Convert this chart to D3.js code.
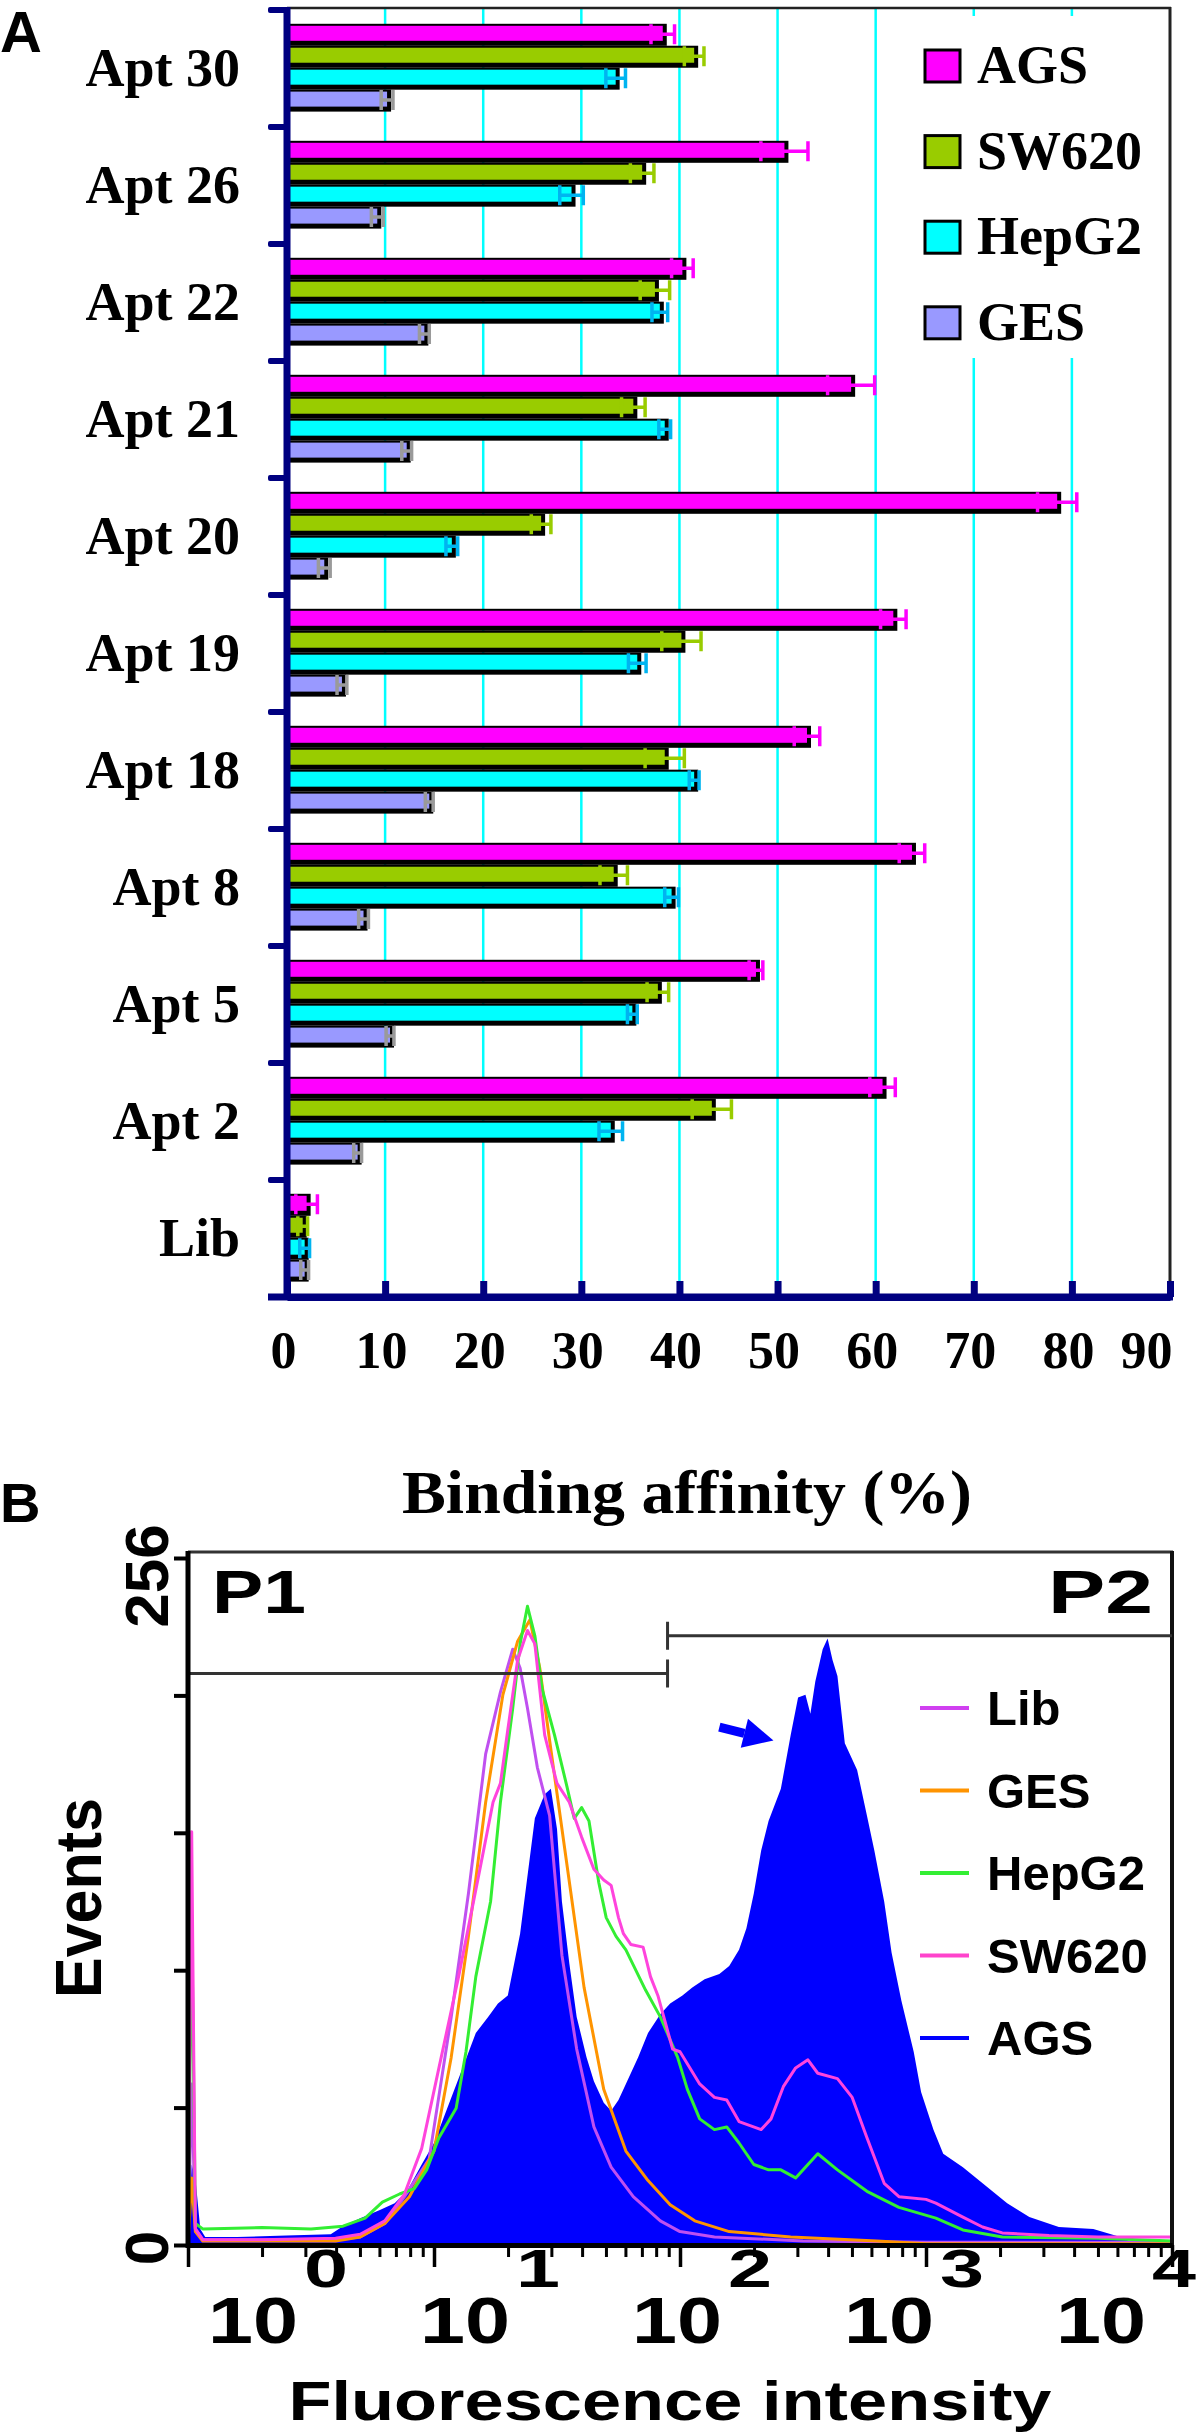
<!DOCTYPE html>
<html><head><meta charset="utf-8">
<script src="https://cdn.jsdelivr.net/npm/d3@7"></script>
<style>html,body{margin:0;padding:0;background:#fff;} svg{display:block;}</style>
</head><body><div id="chart"></div>
<script>
// ================= Panel A data =================
const categories = ["Apt 30","Apt 26","Apt 22","Apt 21","Apt 20","Apt 19","Apt 18","Apt 8","Apt 5","Apt 2","Lib"];
const seriesNames = ["AGS","SW620","HepG2","GES"];
const agsValues   = [38.3, 50.7, 40.3, 57.5, 78.5, 61.8, 53.0, 63.7, 47.8, 60.7, 2.0];
const agsErrors   = [1.2, 2.4, 1.1, 2.4, 2.0, 1.3, 1.3, 1.3, 0.7, 1.3, 1.1];
const sw620Values = [41.5, 36.2, 37.5, 35.3, 25.9, 40.2, 38.5, 33.3, 37.8, 43.3, 1.6];
const sw620Errors = [1.0, 1.2, 1.5, 1.2, 1.0, 2.0, 2.0, 1.4, 1.1, 2.0, 0.5];
const hepg2Values = [33.5, 29.0, 38.0, 38.5, 16.8, 35.7, 41.5, 39.2, 35.2, 33.0, 1.8];
const hepg2Errors = [1.0, 1.2, 0.8, 0.6, 0.6, 0.9, 0.5, 0.7, 0.5, 1.2, 0.5];
const gesValues   = [10.2, 9.2, 14.0, 12.2, 3.8, 5.6, 14.5, 7.8, 10.5, 7.2, 1.8];
const gesErrors   = [0.6, 0.6, 0.5, 0.5, 0.6, 0.5, 0.4, 0.5, 0.4, 0.4, 0.4];
const xTickValuesA = [0, 10, 20, 30, 40, 50, 60, 70, 80, 90];
const titleA = "Binding affinity (%)";

// ================= Panel B data =================
// [log10 fluorescence, events]
const agsCurve = [[0,0],[0.015,30],[0.03,25],[0.05,6],[0.07,3],[0.2,3],[0.4,3.5],[0.58,4],[0.63,7],[0.7,10],[0.78,13],[0.84,15.6],[0.89,20],[0.95,30],[1.0,38],[1.05,50],[1.1,62],[1.17,79],[1.22,85],[1.26,90],[1.3,93],[1.35,116],[1.41,159],[1.45,168],[1.475,170],[1.5,155],[1.52,128],[1.55,105],[1.58,85],[1.62,70],[1.65,61],[1.69,53],[1.72,50],[1.75,54],[1.78,60],[1.83,70],[1.87,79],[1.92,86],[1.96,90],[2.01,93],[2.05,96],[2.1,99],[2.16,101],[2.2,104],[2.24,110],[2.27,118],[2.3,131],[2.33,147],[2.36,158],[2.41,170],[2.45,190],[2.48,204],[2.51,205],[2.53,198],[2.55,210],[2.58,222],[2.6,226],[2.62,218],[2.64,212],[2.67,187],[2.72,177],[2.76,160],[2.79,147],[2.83,128],[2.86,109],[2.9,91],[2.95,72],[2.98,57],[3.03,43],[3.07,34],[3.15,29],[3.23,23],[3.33,15.6],[3.42,10.4],[3.54,6.7],[3.68,6],[3.79,3],[3.85,0.5],[4.0,0]];
const libCurve = [[0,0],[0.015,60],[0.03,6],[0.06,2],[0.3,2],[0.6,2],[0.7,3],[0.8,8],[0.88,18],[0.98,32],[1.07,85],[1.14,131],[1.21,183],[1.27,206],[1.32,222],[1.35,215],[1.38,200],[1.42,178],[1.47,160],[1.52,108],[1.58,73],[1.65,44],[1.72,29],[1.81,18],[1.92,9],[2.0,5],[2.14,3],[2.5,1.5],[3.0,1],[4.0,1]];
const gesCurve = [[0,0],[0.015,25],[0.03,5],[0.06,1.5],[0.6,1.5],[0.7,3],[0.8,8],[0.9,18],[1.0,35],[1.07,70],[1.14,115],[1.21,165],[1.28,205],[1.34,225],[1.39,233],[1.43,215],[1.47,188],[1.54,142],[1.61,96],[1.69,58],[1.78,35],[1.87,24],[1.96,15],[2.06,9],[2.2,5],[2.45,3],[2.8,1.5],[3.0,0.5],[4.0,0.5]];
const hepg2Curve = [[0,0],[0.015,123],[0.03,8],[0.06,6],[0.3,6.5],[0.5,6],[0.63,7],[0.72,10],[0.79,16],[0.86,19],[0.92,21],[0.97,28],[1.02,40],[1.09,51],[1.13,72],[1.17,100],[1.23,128],[1.27,165],[1.32,200],[1.35,224],[1.38,238],[1.41,227],[1.44,207],[1.49,190],[1.54,171],[1.57,159],[1.6,163],[1.63,158],[1.67,135],[1.7,122],[1.74,115],[1.78,110],[1.86,95],[1.92,85],[1.99,70],[2.03,58],[2.08,47],[2.14,43],[2.19,44],[2.24,38],[2.3,30],[2.36,28],[2.41,28],[2.47,25],[2.52,30],[2.56,34],[2.64,28],[2.76,20],[2.89,14],[3.04,10],[3.15,5.6],[3.31,3],[3.7,2.5],[4.0,1.5]];
const sw620Curve = [[0,0],[0.015,154],[0.03,6],[0.06,2],[0.3,2],[0.6,2.5],[0.7,4],[0.8,9],[0.88,19],[0.95,36],[1.02,66],[1.1,100],[1.18,137],[1.24,165],[1.27,172],[1.3,192],[1.34,218],[1.38,229],[1.41,224],[1.45,190],[1.5,172],[1.55,165],[1.6,152],[1.65,140],[1.69,136],[1.72,134],[1.75,122],[1.77,116],[1.8,112],[1.85,111],[1.88,100],[1.91,93],[1.97,73],[2.0,72],[2.08,60],[2.14,55],[2.19,54],[2.24,46],[2.33,43],[2.37,47],[2.42,59],[2.47,66],[2.52,69],[2.56,64],[2.64,62],[2.7,55],[2.76,40],[2.83,23],[2.89,18],[3.0,17],[3.04,15.6],[3.15,10.4],[3.23,6.7],[3.31,4.5],[3.5,3.5],[3.7,3],[4.0,3]];
const histLegend = ["Lib","GES","HepG2","SW620","AGS"];
const yTickValuesB = [0, 51.2, 102.4, 153.6, 204.8, 256];
const yTickLabelsB = ["0", "256"];
const decadeExponents = [0, 1, 2, 3, 4];
const gateBoundary = 89;          // fluorescence where P1 ends / P2 starts
const gateP1Level = 213;          // events level of P1 marker
const gateP2Level = 227;          // events level of P2 marker
const arrowTail = [2.16, 193];    // [log10 fluorescence, events]
const arrowTip = [2.38, 188];

// ================= Setup =================
const serif = "'Liberation Serif','Times New Roman',serif";
const sans = "'Liberation Sans',Arial,sans-serif";
const navy = "#000080";

const svg = d3.select("#chart").append("svg").attr("width", 1200).attr("height", 2434);
svg.append("rect").attr("width", 1200).attr("height", 2434).attr("fill", "#fff");

// ================= Panel A =================
const xA = d3.scaleLinear().domain([0, 90]).range([287, 1170]);
const yA = d3.scaleBand().domain(categories).range([10, 1297]);
const band = yA.bandwidth();
const ySub = d3.scaleBand().domain(seriesNames).range([band * 0.135, band * 0.885]);
const barH = 15;
const fillA = {AGS: "#ff00ff", SW620: "#99cc00", HepG2: "#00ffff", GES: "#9999ff"};
const errA = {AGS: "#ff00ff", SW620: "#99cc00", HepG2: "#00b4f0", GES: "#9a9a9a"};
const valsA = {AGS: agsValues, SW620: sw620Values, HepG2: hepg2Values, GES: gesValues};
const errsA = {AGS: agsErrors, SW620: sw620Errors, HepG2: hepg2Errors, GES: gesErrors};
const barData = categories.flatMap((c, i) => seriesNames.map(s => ({cat: c, s, v: valsA[s][i], e: errsA[s][i]})));

const gA = svg.append("g");
gA.selectAll("line.grid").data(xTickValuesA.filter(t => t > 0 && t < 90)).join("line")
  .attr("x1", d => xA(d)).attr("x2", d => xA(d)).attr("y1", 8).attr("y2", 1297)
  .attr("stroke", "#00ffff").attr("stroke-width", 2.5);
gA.append("rect").attr("x", 900).attr("y", 16).attr("width", 262).attr("height", 342).attr("fill", "#fff");
gA.append("line").attr("x1", 287).attr("x2", 1171).attr("y1", 8).attr("y2", 8).attr("stroke", "#222").attr("stroke-width", 2.5);
gA.append("line").attr("x1", 1170).attr("x2", 1170).attr("y1", 7).attr("y2", 1297).attr("stroke", "#222").attr("stroke-width", 3);

gA.selectAll("rect.shadow").data(barData).join("rect").attr("class", "shadow")
  .attr("x", xA(0)).attr("y", d => yA(d.cat) + ySub(d.s) - 2)
  .attr("width", d => xA(d.v) - xA(0) + 4).attr("height", barH + 7).attr("fill", "#000");
gA.selectAll("rect.bar").data(barData).join("rect").attr("class", "bar")
  .attr("x", xA(0)).attr("y", d => yA(d.cat) + ySub(d.s))
  .attr("width", d => xA(d.v) - xA(0)).attr("height", barH).attr("fill", d => fillA[d.s]);
gA.selectAll("path.err").data(barData).join("path").attr("class", "err")
  .attr("d", d => {
    const cy = yA(d.cat) + ySub(d.s) + barH / 2 + 1;
    const x1 = xA(d.v - d.e), x2 = xA(d.v + d.e);
    return `M${x1},${cy - 10}V${cy + 10}M${x1},${cy}H${x2}M${x2},${cy - 10}V${cy + 10}`;
  })
  .attr("fill", "none").attr("stroke", d => errA[d.s]).attr("stroke-width", 3.5);

const legA = gA.selectAll("g.legA").data(seriesNames).join("g")
  .attr("transform", (d, i) => `translate(925,${50 + i * 85.6})`);
legA.append("rect").attr("width", 35).attr("height", 32).attr("fill", d => fillA[d])
  .attr("stroke", "#000").attr("stroke-width", 3);
legA.append("text").attr("x", 52).attr("y", 33).text(d => d)
  .attr("font-family", serif).attr("font-weight", "bold").attr("font-size", 54).attr("fill", "#000");

const axA_left = gA.append("g").attr("transform", `translate(${xA(0)},0)`)
  .call(d3.axisLeft(yA).tickSize(0).tickPadding(47));
axA_left.select(".domain").remove();
axA_left.selectAll("text").attr("font-family", serif).attr("font-weight", "bold")
  .attr("font-size", 54).attr("fill", "#000");
gA.append("line").attr("x1", xA(0)).attr("x2", xA(0)).attr("y1", 7).attr("y2", 1300)
  .attr("stroke", navy).attr("stroke-width", 7);
gA.selectAll("rect.btick").data(categories.map(c => yA(c)).concat([yA.range()[1]])).join("rect")
  .attr("x", 268).attr("y", d => d - 3).attr("width", 20).attr("height", 6).attr("rx", 2).attr("fill", navy);

const axA_bottom = gA.append("g").attr("transform", `translate(0,1297)`)
  .call(d3.axisBottom(xA).tickValues(xTickValuesA).tickSize(-16).tickSizeOuter(0).tickPadding(34));
axA_bottom.select(".domain").attr("stroke", navy).attr("stroke-width", 7);
axA_bottom.selectAll(".tick line").attr("stroke", navy).attr("stroke-width", 7);
axA_bottom.selectAll("text").attr("font-family", serif).attr("font-weight", "bold")
  .attr("font-size", 52).attr("fill", "#000")
  .attr("text-anchor", (d, i, n) => i === n.length - 1 ? "end" : "middle")
  .attr("dx", (d, i, n) => i === n.length - 1 ? 2 : -4);
gA.append("line").attr("x1", 268).attr("x2", 1173).attr("y1", 1297).attr("y2", 1297)
  .attr("stroke", navy).attr("stroke-width", 7);

svg.append("text").attr("x", 0).attr("y", 52).text("A").attr("font-family", sans)
  .attr("font-weight", "bold").attr("font-size", 58).attr("fill", "#000");

svg.append("text").attr("x", 687).attr("y", 1513).attr("text-anchor", "middle").text(titleA)
  .attr("font-family", serif).attr("font-weight", "bold").attr("font-size", 62)
  .attr("textLength", 570).attr("lengthAdjust", "spacingAndGlyphs").attr("fill", "#000");
svg.append("text").attr("x", 0).attr("y", 1522).text("B").attr("font-family", sans)
  .attr("font-weight", "bold").attr("font-size", 56).attr("fill", "#000");

// ================= Panel B =================
const xB = d3.scaleLog().domain([1, 1e4]).range([188, 1172]);
const yB = d3.scaleLinear().domain([0, 256]).range([2245, 1558]);
const gB = svg.append("g");
svg.append("clipPath").attr("id", "clipB").append("rect")
  .attr("x", 188).attr("y", 1552).attr("width", 984).attr("height", 693);
const plotB = gB.append("g").attr("clip-path", "url(#clipB)");

const px = d => xB(Math.pow(10, d[0]));
plotB.append("path").datum(agsCurve)
  .attr("d", d3.area().x(px).y0(yB(0)).y1(d => yB(d[1])))
  .attr("fill", "#0000ff");
const lineB = d3.line().x(px).y(d => yB(d[1]));
const lineSeries = [
  {name: "Lib", data: libCurve, color: "#c050f0"},
  {name: "GES", data: gesCurve, color: "#ff9400"},
  {name: "HepG2", data: hepg2Curve, color: "#33ee33"},
  {name: "SW620", data: sw620Curve, color: "#ff44dd"}
];
plotB.selectAll("path.hist").data(lineSeries).join("path").attr("class", "hist")
  .attr("d", d => lineB(d.data)).attr("fill", "none").attr("stroke", d => d.color)
  .attr("stroke-width", 3).attr("stroke-linejoin", "round");

gB.append("line").attr("x1", 188).attr("x2", 1173).attr("y1", 1552).attr("y2", 1552).attr("stroke", "#333").attr("stroke-width", 3);
gB.append("line").attr("x1", 1172).attr("x2", 1172).attr("y1", 1551).attr("y2", 2247).attr("stroke", "#111").attr("stroke-width", 4);

const gateX = xB(gateBoundary);
gB.append("path").attr("d", `M${xB(1)},${yB(gateP1Level)}H${gateX}M${gateX},${yB(gateP1Level) - 14}V${yB(gateP1Level) + 14}`)
  .attr("stroke", "#333").attr("stroke-width", 3).attr("fill", "none");
gB.append("path").attr("d", `M${gateX},${yB(gateP2Level)}H${xB(1e4)}M${gateX},${yB(gateP2Level) - 14}V${yB(gateP2Level) + 14}`)
  .attr("stroke", "#333").attr("stroke-width", 3).attr("fill", "none");
gB.append("text").attr("x", 212).attr("y", 1613).text("P1").attr("font-family", sans).attr("font-weight", "bold")
  .attr("font-size", 62).attr("textLength", 94).attr("lengthAdjust", "spacingAndGlyphs");
gB.append("text").attr("x", 1153).attr("y", 1613).attr("text-anchor", "end").text("P2").attr("font-family", sans).attr("font-weight", "bold")
  .attr("font-size", 62).attr("textLength", 105).attr("lengthAdjust", "spacingAndGlyphs");

{
  const t = [px(arrowTail), yB(arrowTail[1])], h = [px(arrowTip), yB(arrowTip[1])];
  const ang = Math.atan2(h[1] - t[1], h[0] - t[0]);
  const L = 30, W = 15;
  const bx = h[0] - L * Math.cos(ang), by = h[1] - L * Math.sin(ang);
  const nx = -Math.sin(ang), ny = Math.cos(ang);
  gB.append("line").attr("x1", t[0]).attr("y1", t[1]).attr("x2", bx).attr("y2", by)
    .attr("stroke", "#0000ff").attr("stroke-width", 9);
  gB.append("path").attr("d", `M${h[0]},${h[1]}L${bx + nx * W},${by + ny * W}L${bx - nx * W},${by - ny * W}Z`).attr("fill", "#0000ff");
}

const colorB = {Lib: "#d040f0", GES: "#ff9400", HepG2: "#33ee33", SW620: "#ff44cc", AGS: "#0000ff"};
const legB = gB.selectAll("g.legB").data(histLegend).join("g")
  .attr("transform", (d, i) => `translate(920,${1708 + i * 82.5})`);
legB.append("line").attr("x1", 0).attr("x2", 49).attr("stroke", d => colorB[d]).attr("stroke-width", 4);
legB.append("text").attr("x", 67).attr("y", 17).text(d => d).attr("font-family", sans)
  .attr("font-weight", "bold").attr("font-size", 49).attr("fill", "#000");

const axB_left = gB.append("g").attr("transform", "translate(188,0)")
  .call(d3.axisLeft(yB).tickValues(yTickValuesB).tickSize(14).tickSizeOuter(0).tickFormat(""));
axB_left.select(".domain").remove();
axB_left.selectAll(".tick line").attr("stroke", "#000").attr("stroke-width", 4);
gB.append("line").attr("x1", 188).attr("x2", 188).attr("y1", 1551).attr("y2", 2248).attr("stroke", "#000").attr("stroke-width", 5);
gB.selectAll("text.ylab").data(yTickLabelsB).join("text")
  .attr("transform", d => `translate(168,${d === "256" ? 1576 : 2248}) rotate(-90)`)
  .attr("text-anchor", "middle").text(d => d).attr("font-family", sans).attr("font-weight", "bold")
  .attr("font-size", 62).attr("fill", "#000");
gB.append("text").attr("transform", "translate(101,1898) rotate(-90)").attr("text-anchor", "middle")
  .text("Events").attr("font-family", sans).attr("font-weight", "bold").attr("font-size", 64)
  .attr("textLength", 200).attr("lengthAdjust", "spacingAndGlyphs");

const majors = decadeExponents.map(e => Math.pow(10, e));
const minors = d3.range(0, 4).flatMap(e => d3.range(2, 10).map(m => m * Math.pow(10, e)));
const axB_minor = gB.append("g").attr("transform", "translate(0,2245)")
  .call(d3.axisBottom(xB).tickValues(minors).tickSize(12).tickSizeOuter(0).tickFormat(""));
axB_minor.select(".domain").remove();
axB_minor.selectAll(".tick line").attr("stroke", "#000").attr("stroke-width", 3);
const axB_major = gB.append("g").attr("transform", "translate(0,2245)")
  .call(d3.axisBottom(xB).tickValues(majors).tickSize(22).tickSizeOuter(0).tickFormat(""));
axB_major.select(".domain").attr("stroke", "#000").attr("stroke-width", 5);
axB_major.selectAll(".tick line").attr("stroke", "#000").attr("stroke-width", 3.5);

const labelPos = d3.scalePoint().domain(decadeExponents).range([253, 1101]);
gB.selectAll("text.base").data(decadeExponents).join("text")
  .attr("x", d => labelPos(d)).attr("y", 2343).attr("text-anchor", "middle").text("10")
  .attr("font-family", sans).attr("font-weight", "bold").attr("font-size", 64)
  .attr("textLength", 90).attr("lengthAdjust", "spacingAndGlyphs");
gB.selectAll("text.expo").data(decadeExponents).join("text")
  .attr("x", d => labelPos(d) + 73).attr("y", 2287).attr("text-anchor", "middle").text(d => d)
  .attr("font-family", sans).attr("font-weight", "bold").attr("font-size", 54)
  .attr("textLength", 44).attr("lengthAdjust", "spacingAndGlyphs");
gB.append("text").attr("x", 670).attr("y", 2420).attr("text-anchor", "middle").text("Fluorescence intensity")
  .attr("font-family", sans).attr("font-weight", "bold").attr("font-size", 56)
  .attr("textLength", 763).attr("lengthAdjust", "spacingAndGlyphs");
</script>
</body></html>
